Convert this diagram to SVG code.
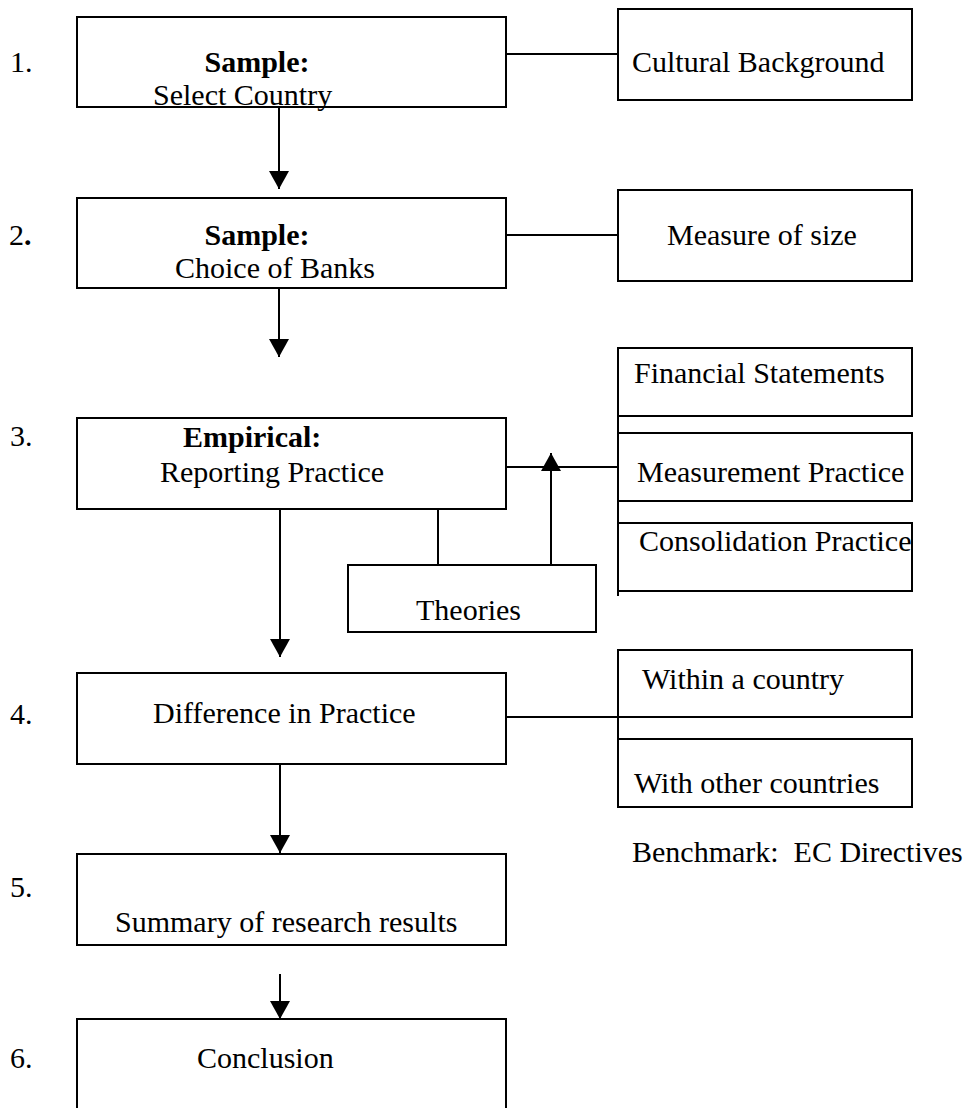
<svg xmlns="http://www.w3.org/2000/svg" width="965" height="1108" viewBox="0 0 965 1108">
<style>
  .box { fill: #ffffff; stroke: #000000; stroke-width: 2; }
  .open { fill: none; stroke: #000000; stroke-width: 2; }
  .t { font-family: "Liberation Serif", "Times New Roman", serif; font-size: 30px; fill: #000000; }
  .b { font-weight: bold; }
  .c { text-anchor: middle; }
  .ln { stroke: #000000; stroke-width: 2; fill: none; }
</style>
<defs>
  <marker id="ah" markerUnits="userSpaceOnUse" markerWidth="18" markerHeight="20" refX="18" refY="10" orient="auto" viewBox="0 0 18 20">
    <path d="M0,0 L18,10 L0,20 z" fill="#000000"/>
  </marker>
</defs>
<rect width="965" height="1108" fill="#ffffff"/>

<g id="step-labels">
  <text class="t" x="10" y="72">1.</text>
  <text class="t" x="9" y="245">2<tspan class="b">.</tspan></text>
  <text class="t" x="10" y="446">3.</text>
  <text class="t" x="10" y="724">4.</text>
  <text class="t" x="10" y="897">5.</text>
  <text class="t" x="10" y="1068">6.</text>
</g>

<g id="connectors">
  <line class="ln" x1="506" y1="54" x2="618" y2="54"/>
  <line class="ln" x1="506" y1="235" x2="618" y2="235"/>
  <line class="ln" x1="506" y1="467" x2="618" y2="467"/>
  <line class="ln" x1="506" y1="717" x2="618" y2="717"/>
  <line class="ln" x1="618" y1="348" x2="618" y2="596"/>
  <line class="ln" x1="618" y1="650" x2="618" y2="807"/>
  <line class="ln" x1="438" y1="496" x2="438" y2="587"/>
  <line class="ln" x1="551" y1="565" x2="551" y2="453" marker-end="url(#ah)"/>
  <line class="ln" x1="279" y1="107" x2="279" y2="189" marker-end="url(#ah)"/>
  <line class="ln" x1="279" y1="288" x2="279" y2="357" marker-end="url(#ah)"/>
  <line class="ln" x1="280" y1="500" x2="280" y2="657" marker-end="url(#ah)"/>
  <line class="ln" x1="280" y1="764" x2="280" y2="853" marker-end="url(#ah)"/>
  <line class="ln" x1="280" y1="974" x2="280" y2="1019" marker-end="url(#ah)"/>
</g>

<g id="node-select-country">
  <rect class="box" x="77" y="17" width="429" height="90"/>
  <text class="t b c" x="257" y="72">Sample:</text>
  <text class="t" x="153" y="105">Select Country</text>
</g>

<g id="node-cultural-background">
  <rect class="box" x="618" y="9" width="294" height="91"/>
  <text class="t" x="632" y="72">Cultural Background</text>
</g>

<g id="node-choice-of-banks">
  <rect class="box" x="77" y="198" width="429" height="90"/>
  <text class="t b c" x="257" y="245">Sample:</text>
  <text class="t" x="175" y="278">Choice of Banks</text>
</g>

<g id="node-measure-of-size">
  <rect class="box" x="618" y="190" width="294" height="91"/>
  <text class="t" x="667" y="245">Measure of size</text>
</g>

<g id="node-reporting-practice">
  <rect class="box" x="77" y="418" width="429" height="91"/>
  <text class="t b" x="183" y="447">Empirical:</text>
  <text class="t" x="160" y="482">Reporting Practice</text>
</g>

<g id="node-financial-statements">
  <rect class="box" x="618" y="348" width="294" height="68"/>
  <text class="t" x="634" y="383">Financial Statements</text>
</g>

<g id="node-measurement-practice">
  <rect class="box" x="618" y="433" width="294" height="68"/>
  <text class="t" x="637" y="482">Measurement Practice</text>
</g>

<g id="node-consolidation-practice">
  <rect class="box" x="618" y="523" width="294" height="68"/>
  <text class="t" x="639" y="551">Consolidation Practice</text>
</g>

<g id="node-theories">
  <rect class="box" x="348" y="565" width="248" height="67"/>
  <text class="t" x="416" y="620">Theories</text>
</g>

<g id="node-difference-in-practice">
  <rect class="box" x="77" y="673" width="429" height="91"/>
  <text class="t" x="153" y="723">Difference in Practice</text>
</g>

<g id="node-within-a-country">
  <rect class="box" x="618" y="650" width="294" height="67"/>
  <text class="t" x="642" y="689">Within a country</text>
</g>

<g id="node-with-other-countries">
  <rect class="box" x="618" y="739" width="294" height="68"/>
  <text class="t" x="634" y="793">With other countries</text>
</g>

<g id="benchmark">
  <text class="t" x="632" y="862" xml:space="preserve">Benchmark:  EC Directives</text>
</g>

<g id="node-summary">
  <rect class="box" x="77" y="854" width="429" height="91"/>
  <text class="t" x="115" y="932">Summary of research results</text>
</g>

<g id="node-conclusion">
  <path class="open" d="M77,1110 V1019 H506 V1110"/>
  <text class="t" x="197" y="1068">Conclusion</text>
</g>
</svg>
